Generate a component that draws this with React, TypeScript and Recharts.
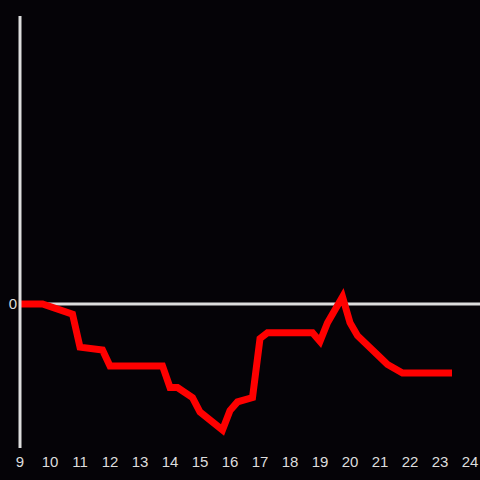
import { LineChart, Line, XAxis, YAxis, ReferenceLine } from 'recharts';

// hour of day
const hours = [
  9.0, 9.75, 10.75, 11.0, 11.75, 12.0, 13.75, 14.0, 14.25, 14.75, 15.0, 15.75, 16.0, 16.25,
  16.75, 17.0, 17.25, 18.75, 19.0, 19.25, 19.75, 20.0, 20.25, 21.0, 21.25, 21.75, 23.4,
];
const values = [
  0, 0, -0.07, -0.3, -0.32, -0.43, -0.43, -0.58, -0.58, -0.65, -0.75, -0.875, -0.74, -0.68,
  -0.65, -0.24, -0.2, -0.2, -0.26, -0.13, 0.05, -0.13, -0.22, -0.37, -0.42, -0.48, -0.48,
];
const xTicks = [9, 10, 11, 12, 13, 14, 15, 16, 17, 18, 19, 20, 21, 22, 23, 24];
const yTicks = [0];

const data = hours.map((h, i) => ({ hour: h, value: values[i] }));

const axisColor = '#dddddd';
const fontFamily = '"Liberation Sans", Arial, sans-serif';

export default function App() {
  return (
    <div
      style={{
        position: 'absolute',
        left: 0,
        top: 0,
        width: 480,
        height: 480,
        background: '#050307',
        fontFamily,
        fontSize: 15,
      }}
    >
      <LineChart width={480} height={480} data={data} margin={{ top: 16, right: 0, bottom: 0, left: 0 }}>
        <XAxis
          dataKey="hour"
          type="number"
          domain={[9, 24.333]}
          ticks={xTicks}
          allowDataOverflow
          axisLine={false}
          tickLine={false}
          tick={{ fill: axisColor, fontSize: 15, fontFamily }}
          fontSize={15}
          height={32}
          interval={0}
        />
        <YAxis
          type="number"
          domain={[-1, 2]}
          ticks={yTicks}
          width={20}
          axisLine={{ stroke: axisColor, strokeWidth: 3 }}
          tickLine={false}
          tickSize={3}
          tickMargin={0}
          tick={{ fill: axisColor, fontSize: 15, fontFamily }}
          fontSize={15}
        />
        <ReferenceLine y={0} stroke={axisColor} strokeWidth={3} />
        <Line
          dataKey="value"
          type="linear"
          stroke="#ff0000"
          strokeWidth={7}
          dot={false}
          isAnimationActive={false}
        />
      </LineChart>
    </div>
  );
}
